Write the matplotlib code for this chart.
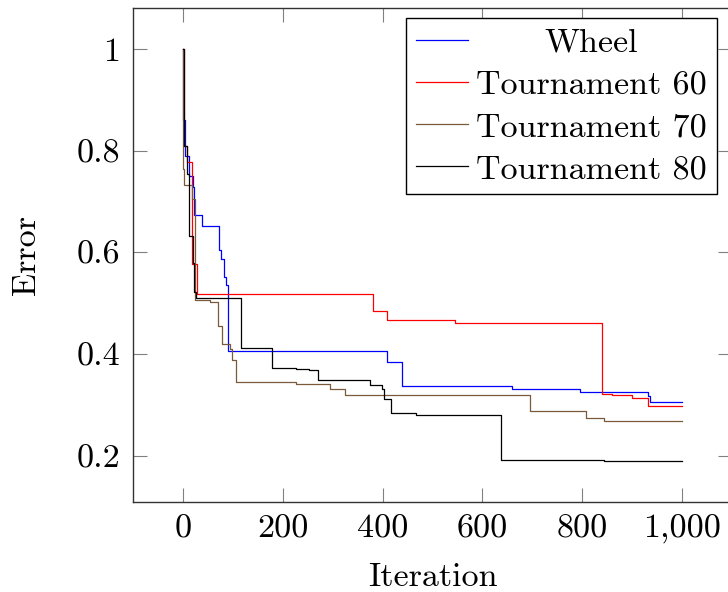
import matplotlib
matplotlib.use("Agg")
import matplotlib.pyplot as plt
from matplotlib.transforms import ScaledTranslation

plt.rcParams['font.family'] = ['cmr10', 'DejaVu Serif']
plt.rcParams['axes.formatter.use_mathtext'] = True
plt.rcParams['mathtext.fontset'] = 'cm'

# ---- data ----
wheel_x = [0, 1, 4, 12, 20, 22, 38, 73, 77, 83, 87, 90, 409, 439, 659, 795, 931, 936, 1000]
wheel_y = [1.0, 0.86, 0.79, 0.751, 0.729, 0.674, 0.653, 0.605, 0.587, 0.551, 0.535, 0.406,
           0.384, 0.337, 0.331, 0.326, 0.317, 0.305, 0.305]

t60_x = [0, 2, 8, 19, 29, 381, 408, 546, 839, 859, 900, 931, 1000]
t60_y = [1.0, 0.81, 0.778, 0.577, 0.519, 0.484, 0.467, 0.461, 0.322, 0.319, 0.314, 0.298, 0.298]

t70_x = [0, 1, 3, 18, 25, 55, 71, 79, 95, 98, 107, 226, 295, 325, 695, 807, 844, 1000]
t70_y = [1.0, 0.764, 0.733, 0.705, 0.507, 0.502, 0.456, 0.420, 0.410, 0.389, 0.345,
         0.342, 0.332, 0.319, 0.288, 0.274, 0.268, 0.268]

t80_x = [0, 2, 8, 13, 20, 22, 27, 117, 179, 226, 253, 271, 374, 399, 403, 417, 466, 637, 843, 1000]
t80_y = [1.0, 0.81, 0.754, 0.633, 0.58, 0.522, 0.511, 0.412, 0.373, 0.371, 0.368, 0.349,
         0.340, 0.332, 0.312, 0.285, 0.281, 0.191, 0.190, 0.190]

series_names = ["Wheel", "Tournament 60", "Tournament 70", "Tournament 80"]
series_colors = ["#0000ff", "#ff0000", "#7a5a3a", "#000000"]

xticks = [0, 200, 400, 600, 800, 1000]
xticklabels = ["0", "200", "400", "600", "800", "1,000"]
yticks = [0.2, 0.4, 0.6, 0.8, 1.0]
yticklabels = ["0.2", "0.4", "0.6", "0.8", "1"]

# ---- figure ----
W, H = 728, 592
fig = plt.figure(figsize=(W / 100, H / 100), dpi=100)
ax = fig.add_axes([133 / W, 90 / H, 599 / W, 494 / H])

FS = 24.5
for xs, ys, name, c in zip([wheel_x, t60_x, t70_x, t80_x],
                           [wheel_y, t60_y, t70_y, t80_y],
                           series_names, series_colors):
    ax.step(xs, ys, where='post', color=c, lw=0.9, label=name)

ax.set_xlim(-100, 1100)
ax.set_ylim(0.109, 1.081)
ax.set_xticks(xticks)
ax.set_xticklabels(xticklabels)
ax.set_yticks(yticks)
ax.set_yticklabels(yticklabels)
ax.tick_params(direction='in', top=True, right=True, length=10, width=0.8,
               color='#808080', labelsize=FS, pad=9)
for s in ax.spines.values():
    s.set_linewidth(1.0)
    s.set_color('#333333')

ax.set_xlabel("Iteration", fontsize=FS, labelpad=13.5)
ax.set_ylabel("Error", fontsize=FS, labelpad=26)

leg = ax.legend(loc='upper right', bbox_to_anchor=(0.975, 0.98), borderaxespad=0,
                fontsize=FS, fancybox=False, framealpha=1, edgecolor='black',
                handlelength=1.53, handletextpad=0.23, labelspacing=0.36,
                borderpad=0.3)
leg.get_frame().set_linewidth(1.0)

# center "Wheel" within the legend text column, as in the reference
fig.canvas.draw()
r = fig.canvas.get_renderer()
texts = leg.get_texts()
wmax = max(t.get_window_extent(r).width for t in texts)
w0 = texts[0].get_window_extent(r).width
dx = (wmax - w0) / 2 / fig.dpi
texts[0].set_transform(texts[0].get_transform() + ScaledTranslation(dx, 0, fig.dpi_scale_trans))

fig.savefig("out.png", dpi=100)
